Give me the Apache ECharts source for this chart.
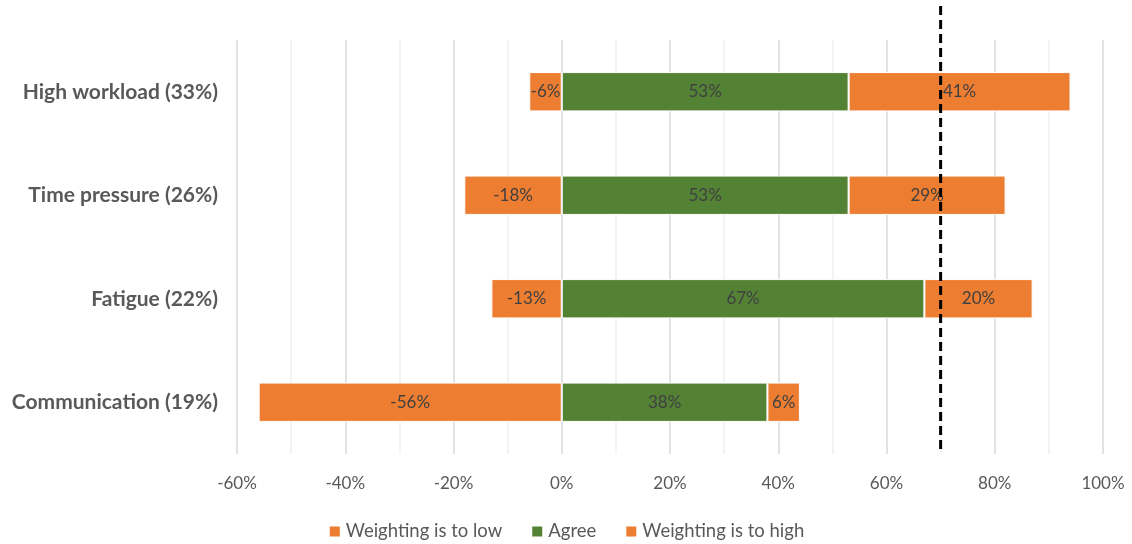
<!DOCTYPE html>
<html>
<head>
<meta charset="utf-8">
<script src="https://cdn.jsdelivr.net/npm/echarts@6/dist/echarts.min.js"></script>
<style>html,body{margin:0;padding:0;background:#fff}#c{width:1132px;height:544px}</style>
</head>
<body>
<div id="c"></div>
<script>
const categories = ["High workload (33%)", "Time pressure (26%)", "Fatigue (22%)", "Communication (19%)"];
const seriesNames = ["Weighting is to low", "Agree", "Weighting is to high"];
const lowValues = [-6, -18, -13, -56];
const agreeValues = [53, 53, 67, 38];
const highValues = [41, 29, 20, 6];
const refLineValue = 70;
const xTicks = { min: -60, max: 100, interval: 20 };

const ORANGE = "#ED7D31", GREEN = "#548235";
const FONT = "Lato, 'Open Sans', sans-serif";
const chart = echarts.init(document.getElementById('c'), null, { renderer: 'canvas' });

function mk(name, data, color) {
  return {
    name, type: 'bar', stack: 'total', data, barWidth: '38%',
    itemStyle: { color, borderColor: '#fff', borderWidth: 1 },
    label: { show: true, position: 'inside', formatter: p => p.value + '%', color: '#404040', fontSize: 17, fontFamily: FONT },
    emphasis: { disabled: true }
  };
}

chart.setOption({
  animation: false,
  grid: { left: 237, right: 29, top: 40, bottom: 90, containLabel: false },
  legend: {
    bottom: -2, left: 'center', itemWidth: 12, itemHeight: 12, itemGap: 28, icon: 'rect',
    textStyle: { fontSize: 18.5, color: '#595959', fontFamily: FONT },
    data: seriesNames
  },
  xAxis: {
    type: 'value', min: xTicks.min, max: xTicks.max, interval: xTicks.interval,
    axisLine: { show: false }, axisTick: { show: false },
    axisLabel: { formatter: v => v + '%', fontSize: 17, color: '#595959', fontFamily: FONT, margin: 21 },
    splitLine: { show: true, lineStyle: { color: '#D9D9D9', width: 1.5 } },
    minorTick: { show: false, splitNumber: 2 },
    minorSplitLine: { show: true, lineStyle: { color: '#F0F0F0', width: 1.5 } }
  },
  yAxis: {
    type: 'category', data: categories, inverse: true,
    axisLine: { show: false }, axisTick: { show: false },
    axisLabel: { fontSize: 21, fontWeight: 'bold', color: '#595959', fontFamily: FONT, margin: 19 }
  },
  series: [mk(seriesNames[0], lowValues, ORANGE), mk(seriesNames[1], agreeValues, GREEN), mk(seriesNames[2], highValues, ORANGE)]
});

const px = chart.convertToPixel({ xAxisIndex: 0 }, refLineValue);
chart.setOption({
  graphic: [{
    type: 'line', z: 100,
    shape: { x1: px, y1: 6, x2: px, y2: 454 },
    style: { stroke: '#000', lineWidth: 3, lineDash: [9, 5] }
  }]
});
</script>
</body>
</html>
